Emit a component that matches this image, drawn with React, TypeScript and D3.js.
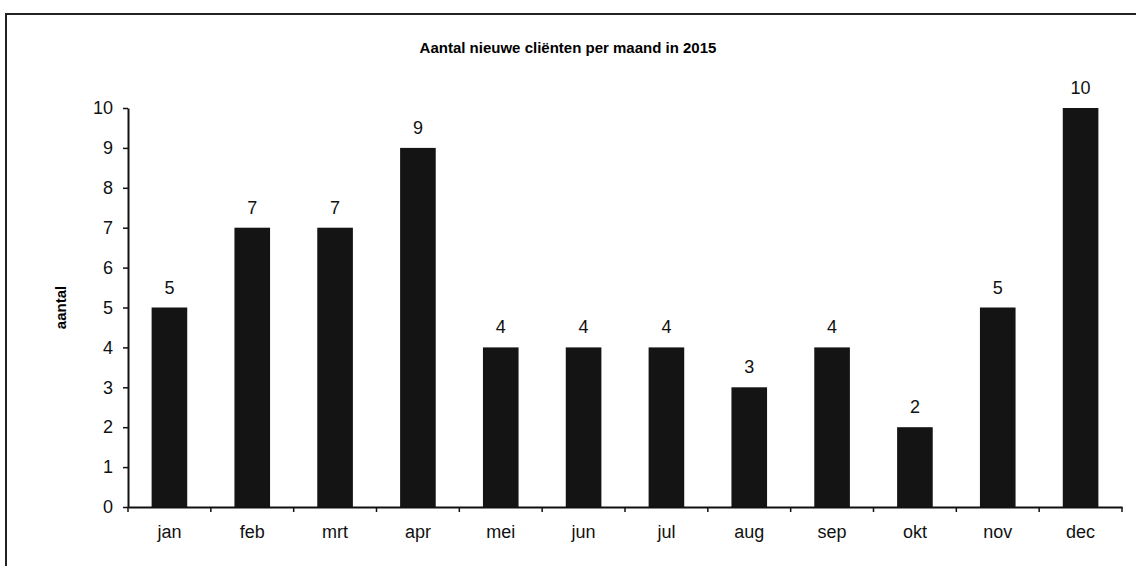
import React, { useRef, useEffect } from 'react';
import * as d3 from 'd3';

const months = ['jan', 'feb', 'mrt', 'apr', 'mei', 'jun', 'jul', 'aug', 'sep', 'okt', 'nov', 'dec'];
const clients = [5, 7, 7, 9, 4, 4, 4, 3, 4, 2, 5, 10];
const yTicks = [0, 1, 2, 3, 4, 5, 6, 7, 8, 9, 10];

const title = 'Aantal nieuwe cliënten per maand in 2015';
const yLabel = 'aantal';

const App: React.FC = () => {
  const ref = useRef<SVGSVGElement | null>(null);

  useEffect(() => {
    if (!ref.current) return;
    const svg = d3.select(ref.current);
    svg.selectAll('*').remove();

    const width = 1136;
    const height = 566;
    const margin = { top: 108, right: 14, bottom: 59, left: 128 };
    const font = 'Arial, "Liberation Sans", sans-serif';

    // frame (only top and left visible in the scan)
    svg.append('path')
      .attr('d', `M6,${height} L6,14 L${width},14`)
      .attr('fill', 'none')
      .attr('stroke', '#222')
      .attr('stroke-width', 2);

    const x = d3.scaleBand<string>()
      .domain(months)
      .range([margin.left, width - margin.right])
      .paddingInner(0.57)
      .paddingOuter(0.285);

    const y = d3.scaleLinear()
      .domain([0, 10])
      .range([height - margin.bottom, margin.top]);

    // outer band edges for ticks along x
    const step = (width - margin.right - margin.left) / months.length;

    svg.append('text')
      .attr('x', 568)
      .attr('y', 53)
      .attr('text-anchor', 'middle')
      .attr('font-family', font)
      .attr('font-weight', 'bold')
      .attr('font-size', 15)
      .text(title);

    svg.append('text')
      .attr('transform', `translate(66,${y(5)}) rotate(-90)`)
      .attr('text-anchor', 'middle')
      .attr('font-family', font)
      .attr('font-weight', 'bold')
      .attr('font-size', 15)
      .text(yLabel);

    // bars
    svg.append('g')
      .selectAll('rect')
      .data(clients)
      .join('rect')
      .attr('x', (_, i) => x(months[i])!)
      .attr('y', d => y(d))
      .attr('width', x.bandwidth())
      .attr('height', d => y(0) - y(d))
      .attr('fill', '#141414');

    // value labels
    svg.append('g')
      .selectAll('text')
      .data(clients)
      .join('text')
      .attr('x', (_, i) => x(months[i])! + x.bandwidth() / 2)
      .attr('y', d => y(d) - 14)
      .attr('text-anchor', 'middle')
      .attr('font-family', font)
      .attr('font-size', 18)
      .attr('fill', '#111')
      .text(d => d);

    // y axis
    const yAxis = svg.append('g')
      .attr('transform', `translate(${margin.left},0)`)
      .call(d3.axisLeft(y).tickValues(yTicks).tickSize(5).tickPadding(10).tickSizeOuter(0));
    yAxis.select('.domain').attr('stroke', '#111').attr('stroke-width', 2);
    yAxis.selectAll('.tick line').attr('stroke', '#111').attr('stroke-width', 1.5);
    yAxis.selectAll('.tick text')
      .attr('font-family', font)
      .attr('font-size', 18)
      .attr('fill', '#111');

    // x axis
    const xAxis = svg.append('g')
      .attr('transform', `translate(0,${y(0)})`)
      .call(d3.axisBottom(x).tickSize(0).tickPadding(18).tickSizeOuter(0));
    xAxis.select('.domain').attr('stroke', '#111').attr('stroke-width', 2);
    xAxis.selectAll('.tick text')
      .attr('font-family', font)
      .attr('font-size', 18)
      .attr('fill', '#111');

    xAxis.append('g')
      .selectAll('line')
      .data(d3.range(months.length + 1))
      .join('line')
      .attr('x1', i => margin.left + i * step)
      .attr('x2', i => margin.left + i * step)
      .attr('y1', 0)
      .attr('y2', 5)
      .attr('stroke', '#111')
      .attr('stroke-width', 1.5);
  }, []);

  return (
    <div style={{ position: 'absolute', left: 0, top: 0, width: 1136, height: 566, background: '#fff' }}>
      <svg ref={ref} width={1136} height={566} />
    </div>
  );
};

export default App;
